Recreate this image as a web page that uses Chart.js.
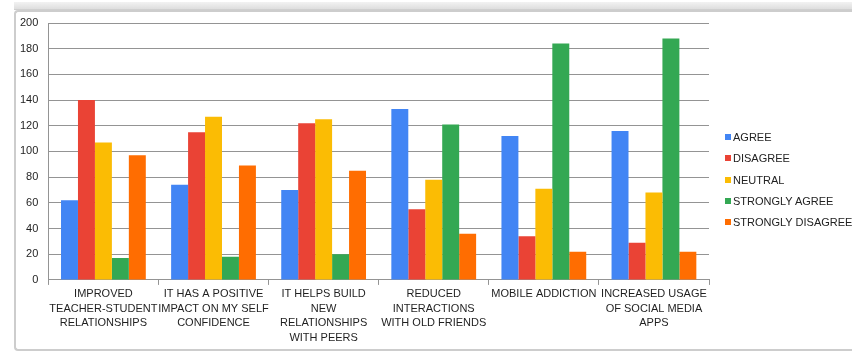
<!DOCTYPE html>
<html>
<head>
<meta charset="utf-8">
<script src="https://cdn.jsdelivr.net/npm/chart.js@4"></script>
<style>
  html, body { margin: 0; padding: 0; background: #fff; }
  body { width: 852px; height: 353px; position: relative; overflow: hidden; font-family: "Liberation Sans", Arial, sans-serif; }
  #strip { position: absolute; left: 14px; top: 2px; width: 838px; height: 7px; background: linear-gradient(#f2f2f2, #dedede); border-bottom: 1px solid #cfcfcf; }
  #frame { position: absolute; left: 14px; top: 10px; width: 850px; height: 337px; border: 2px solid #cdcdcd; border-right: none; border-radius: 4px 0 0 4px; box-sizing: content-box; }
  #wrap { position: absolute; left: 0; top: 0; width: 852px; height: 353px; }
  #legend { position: absolute; left: 725px; top: 129px; font-size: 11px; color: #222; }
  #legend div { height: 21.3px; line-height: 16px; white-space: nowrap; }
  #legend span { display: inline-block; width: 6px; height: 6px; margin-right: 2px; vertical-align: 1px; }
</style>
</head>
<body>
<div id="strip"></div>
<div id="frame"></div>
<div id="wrap"><canvas id="chart" width="852" height="353"></canvas></div>
<div id="legend"></div>
<script>
const categories = [
  ['IMPROVED', 'TEACHER-STUDENT', 'RELATIONSHIPS'],
  ['IT HAS A POSITIVE', 'IMPACT ON MY SELF', 'CONFIDENCE'],
  ['IT HELPS BUILD', 'NEW', 'RELATIONSHIPS', 'WITH PEERS'],
  ['REDUCED', 'INTERACTIONS', 'WITH OLD FRIENDS'],
  ['MOBILE ADDICTION'],
  ['INCREASED USAGE', 'OF SOCIAL MEDIA', 'APPS']
];
const seriesNames = ['AGREE', 'DISAGREE', 'NEUTRAL', 'STRONGLY AGREE', 'STRONGLY DISAGREE'];
const agree = [62, 74, 70, 133, 112, 116];
const disagree = [140, 115, 122, 55, 34, 29];
const neutral = [107, 127, 125, 78, 71, 68];
const stronglyAgree = [17, 18, 20, 121, 184, 188];
const stronglyDisagree = [97, 89, 85, 36, 22, 22];
const yTicks = [0, 20, 40, 60, 80, 100, 120, 140, 160, 180, 200];

const colors = ['#4285F4', '#EA4335', '#FBBC04', '#34A853', '#FF6D01'];
const values = [agree, disagree, neutral, stronglyAgree, stronglyDisagree];

const font = { family: '"Liberation Sans", Arial, sans-serif', size: 11 };

new Chart(document.getElementById('chart'), {
  type: 'bar',
  data: {
    labels: categories,
    datasets: seriesNames.map((name, i) => ({
      label: name,
      data: values[i],
      backgroundColor: colors[i],
      borderWidth: 0,
      barPercentage: 1,
      categoryPercentage: 0.77
    }))
  },
  options: {
    responsive: false,
    animation: false,
    layout: { padding: { left: 10, top: 23, right: 143, bottom: 6 } },
    plugins: { legend: { display: false }, tooltip: { enabled: false } },
    scales: {
      x: {
        grid: { drawOnChartArea: false, drawTicks: true, tickLength: 5, color: '#949494', offset: true },
        border: { color: '#949494' },
        ticks: { font: { ...font, lineHeight: 1.32 }, color: '#1f1f1f', padding: 2, maxRotation: 0, autoSkip: false }
      },
      y: {
        min: 0,
        max: 200,
        afterBuildTicks: axis => { axis.ticks = yTicks.map(v => ({ value: v })); },
        grid: { color: '#949494', drawTicks: false },
        border: { color: '#949494' },
        ticks: { font: font, color: '#1f1f1f', padding: 10 }
      }
    }
  }
});

// legend on the right, built from the series list
const legend = document.getElementById('legend');
seriesNames.forEach((name, i) => {
  const row = document.createElement('div');
  row.innerHTML = '<span style="background:' + colors[i] + '"></span>' + name;
  legend.appendChild(row);
});
</script>
</body>
</html>
